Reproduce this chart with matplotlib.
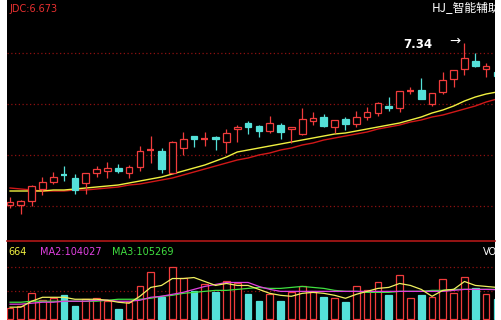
import matplotlib
matplotlib.use("Agg")
import matplotlib.pyplot as plt
from matplotlib.patches import Rectangle
import numpy as np

# ---- data ----
opens = [5.72, 5.72, 5.76, 5.88, 5.95, 6.03, 5.99, 5.94, 6.04, 6.06,
         6.09, 6.04, 6.10, 6.27, 6.26, 6.04, 6.29, 6.41, 6.38, 6.40,
         6.35, 6.48, 6.54, 6.51, 6.46, 6.52, 6.48, 6.43, 6.56, 6.60,
         6.50, 6.58, 6.53, 6.60, 6.64, 6.71, 6.69, 6.86, 6.87, 6.73,
         6.85, 6.98, 7.08, 7.16, 7.08, 7.05]
highs = [5.80, 5.77, 5.92, 6.00, 6.05, 6.11, 6.03, 6.04, 6.11, 6.15,
         6.13, 6.12, 6.31, 6.41, 6.29, 6.36, 6.45, 6.41, 6.45, 6.41,
         6.48, 6.52, 6.56, 6.52, 6.61, 6.54, 6.50, 6.69, 6.65, 6.63,
         6.57, 6.60, 6.66, 6.70, 6.75, 6.80, 6.86, 6.90, 6.99, 6.84,
         7.05, 7.07, 7.34, 7.24, 7.14, 7.06]
lows = [5.69, 5.63, 5.71, 5.82, 5.93, 5.96, 5.83, 5.83, 6.00, 5.99,
        6.04, 5.99, 6.06, 6.14, 6.04, 6.03, 6.22, 6.30, 6.31, 6.27,
        6.24, 6.35, 6.43, 6.40, 6.44, 6.38, 6.34, 6.42, 6.52, 6.50,
        6.44, 6.47, 6.50, 6.57, 6.61, 6.66, 6.65, 6.83, 6.78, 6.71,
        6.83, 6.90, 7.02, 7.10, 7.00, 7.00]
closes = [5.75, 5.76, 5.91, 5.95, 6.00, 6.02, 5.87, 6.04, 6.08, 6.09,
          6.06, 6.10, 6.26, 6.28, 6.08, 6.35, 6.38, 6.38, 6.39, 6.38,
          6.44, 6.50, 6.50, 6.46, 6.54, 6.45, 6.50, 6.58, 6.59, 6.51,
          6.57, 6.53, 6.60, 6.65, 6.74, 6.69, 6.86, 6.87, 6.78, 6.84,
          6.97, 7.07, 7.19, 7.11, 7.11, 7.01]
ma_yellow = [5.86, 5.86, 5.86, 5.86, 5.87, 5.87, 5.88, 5.89, 5.90, 5.91,
             5.92, 5.94, 5.96, 5.98, 6.00, 6.03, 6.06, 6.09, 6.12, 6.16,
             6.20, 6.25, 6.27, 6.29, 6.31, 6.33, 6.35, 6.37, 6.39, 6.41,
             6.43, 6.44, 6.46, 6.48, 6.50, 6.52, 6.54, 6.57, 6.60, 6.64,
             6.67, 6.71, 6.76, 6.80, 6.83, 6.85]
ma_red = [5.89, 5.88, 5.87, 5.86, 5.86, 5.86, 5.87, 5.87, 5.88, 5.89,
          5.90, 5.92, 5.93, 5.95, 5.97, 5.99, 6.02, 6.05, 6.08, 6.11,
          6.14, 6.17, 6.19, 6.22, 6.24, 6.27, 6.29, 6.32, 6.34, 6.37,
          6.39, 6.41, 6.43, 6.45, 6.48, 6.50, 6.52, 6.55, 6.57, 6.60,
          6.62, 6.65, 6.68, 6.71, 6.75, 6.78]

volume = [38500, 45500, 91000, 66500, 73500, 84000, 45500, 70000, 73500, 63000,
          35000, 59500, 115500, 168000, 77000, 185500, 147000, 98000, 122500, 94500,
          133000, 126000, 87500, 63000, 87500, 63000, 94500, 115500, 94500, 77000,
          73500, 59500, 115500, 101500, 129500, 84000, 157500, 73500, 84000, 77000,
          143500, 91000, 150500, 108500, 87500, 70000]
vol_ma1 = [42000, 42000, 63000, 77000, 77000, 77000, 70000, 70000, 70000, 66500,
           59500, 56000, 80500, 112000, 119000, 143500, 143500, 147000, 133000, 119000,
           126000, 119000, 119000, 105000, 91000, 84000, 80500, 91000, 94500, 91000,
           84000, 73500, 87500, 98000, 108500, 112000, 126000, 119000, 105000, 80500,
           101500, 105000, 133000, 119000, 115500, 112000]
vol_ma2 = [52500, 52500, 56000, 59500, 59500, 63000, 63000, 63000, 66500, 66500,
           63000, 63000, 66500, 77000, 80500, 87500, 94500, 105000, 115500, 122500,
           129500, 129500, 129500, 115500, 105000, 98000, 98000, 98000, 98000, 98000,
           98000, 98000, 98000, 98000, 98000, 98000, 98000, 98000, 98000, 98000,
           98000, 101500, 105000, 105000, 105000, 104027]
vol_ma3 = [59500, 59500, 63000, 63000, 63000, 63000, 63000, 63000, 63000, 66500,
           70000, 70000, 70000, 73500, 80500, 84000, 91000, 94500, 98000, 101500,
           101500, 105000, 108500, 112000, 108500, 108500, 112000, 115500, 112000, 108500,
           101500, 98000, 98000, 94500, 94500, 94500, 98000, 98000, 98000, 101500,
           101500, 105000, 105000, 105000, 105000, 105269]

price_grid = [7.24, 6.73, 6.22, 5.71]
vol_grid = [185500, 98000]

UP = "#f03c3c"
DOWN = "#54e0d8"
GRID = "#8c1010"

W, H = 501, 320
fig = plt.figure(figsize=(W / 100, H / 100), dpi=100)
fig.patch.set_facecolor("white")

ax = fig.add_axes([7 / W, (H - 241) / H, 488 / W, 241 / H])
axv = fig.add_axes([7 / W, 0, 488 / W, 79 / H])
for a in (ax, axv):
    a.set_facecolor("black")
    a.set_xticks([])
    a.set_yticks([])
    for s in a.spines.values():
        s.set_visible(False)

x = np.arange(len(opens))
bw = 0.62

# ---- price panel ----
for g in price_grid:
    ax.axhline(g, color=GRID, lw=0.9, ls=(0, (1, 2)), zorder=1)

ax.plot(x, ma_red, color="#d01818", lw=1.0, zorder=2)
ax.plot(x, ma_yellow, color="#f0f040", lw=1.0, zorder=2)

for i in range(len(opens)):
    o, h, l, c = opens[i], highs[i], lows[i], closes[i]
    up = c >= o
    col = UP if up else DOWN
    ax.vlines(x[i], l, h, color=col, lw=0.9, zorder=3)
    lo, hi = min(o, c), max(o, c)
    if hi - lo < 0.012:
        ax.hlines((o + c) / 2, x[i] - bw / 2, x[i] + bw / 2, color=col, lw=1.6, zorder=4)
    elif up:
        ax.add_patch(Rectangle((x[i] - bw / 2, lo), bw, hi - lo, facecolor="black",
                               edgecolor=col, lw=0.9, zorder=4))
    else:
        ax.add_patch(Rectangle((x[i] - bw / 2, lo), bw, hi - lo, facecolor=col,
                               edgecolor=col, lw=0.9, zorder=4))

ax.set_xlim(-0.28, 44.82)
ax.set_ylim(5.36, 7.77)

imax = int(np.argmax(highs))
ax.text(x[imax] - 4.3, highs[imax] - 0.01, f"{highs[imax]:.2f}", color="white",
        fontsize=8.5, fontweight="bold", ha="center", va="center")
ax.text(x[imax] - 0.9, highs[imax] + 0.02, "→", color="white", fontsize=9.5,
        ha="center", va="center")

ax.text(0.006, 0.985, "JDC:6.673", transform=ax.transAxes, color="#e83030",
        fontsize=7, ha="left", va="top", family="DejaVu Sans")
ax.text(0.87, 0.993, "HJ_智能辅助", transform=ax.transAxes, color="white",
        fontsize=8.5, ha="left", va="top", clip_on=True,
        family=["Noto Sans CJK SC", "DejaVu Sans"])

# ---- volume panel ----
for g in vol_grid:
    axv.axhline(g, color=GRID, lw=0.9, ls=(0, (1, 2)), zorder=1)

for i in range(len(volume)):
    up = closes[i] >= opens[i]
    if up:
        axv.add_patch(Rectangle((x[i] - bw / 2, 0), bw, volume[i], facecolor="black",
                                edgecolor=UP, lw=0.9, zorder=3))
    else:
        axv.add_patch(Rectangle((x[i] - bw / 2, 0), bw, volume[i], facecolor=DOWN,
                                edgecolor=DOWN, lw=0.9, zorder=3))

axv.plot(x, vol_ma3, color="#40e040", lw=0.9, zorder=4)
axv.plot(x, vol_ma2, color="#e040e0", lw=0.9, zorder=4)
axv.plot(x, vol_ma1, color="#f0f060", lw=0.9, zorder=4)

axv.set_xlim(-0.28, 44.82)
axv.set_ylim(-3500, 276500)
axv.axhline(276500, color="#b01818", lw=1.2, zorder=5, clip_on=False)

axv.text(0.003, 0.86, "664", transform=axv.transAxes, color="#f0f040",
         fontsize=7, va="center", ha="left")
axv.text(0.067, 0.86, f"MA2:{vol_ma2[-1]}", transform=axv.transAxes, color="#e040e0",
         fontsize=7, va="center", ha="left")
axv.text(0.215, 0.86, f"MA3:{vol_ma3[-1]}", transform=axv.transAxes, color="#40e040",
         fontsize=7, va="center", ha="left")
axv.text(0.975, 0.86, "VOL", transform=axv.transAxes, color="white",
         fontsize=7, va="center", ha="left", clip_on=True)

fig.savefig("out.png", dpi=100, facecolor="white")
